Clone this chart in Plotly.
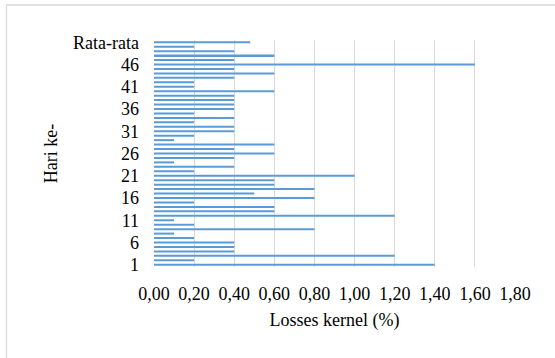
import plotly.graph_objects as go

# Daily kernel losses (%), days 1..50, followed by the average
days = [str(d) for d in range(1, 51)] + ["Rata-rata"]
losses = [
    1.40, 0.20, 1.20, 0.40, 0.40, 0.40, 0.20, 0.10, 0.80, 0.20,
    0.10, 1.20, 0.60, 0.60, 0.20, 0.80, 0.50, 0.80, 0.60, 0.60,
    1.00, 0.20, 0.40, 0.10, 0.40, 0.60, 0.40, 0.60, 0.10, 0.20,
    0.40, 0.40, 0.20, 0.40, 0.20, 0.40, 0.40, 0.40, 0.40, 0.60,
    0.20, 0.20, 0.40, 0.60, 0.40, 1.60, 0.40, 0.60, 0.40, 0.20,
    0.48,
]
y_ticks = ["1", "6", "11", "16", "21", "26", "31", "36", "41", "46", "Rata-rata"]
x_ticks = [0.0, 0.2, 0.4, 0.6, 0.8, 1.0, 1.2, 1.4, 1.6, 1.8]
x_tick_text = [f"{v:.2f}".replace(".", ",") for v in x_ticks]

W, H = 555, 358
L, R, T, B = 154, 40, 40, 91
pw, ph = W - L - R, H - T - B

font = dict(family="Liberation Serif, Times New Roman, serif", size=18, color="#000000")

fig = go.Figure(
    go.Bar(
        x=losses,
        y=days,
        orientation="h",
        width=0.45,
        marker=dict(color="#5B9BD5", line=dict(width=0)),
    )
)

# Outer chart-area border
def px_x(p):
    return (p - L) / pw

def px_y(p):
    return (H - B - p) / ph

fig.add_shape(
    type="rect", xref="paper", yref="paper",
    x0=px_x(6.5), x1=px_x(W + 5), y0=px_y(H + 5), y1=px_y(5),
    line=dict(color="#D9D9D9", width=1.3), fillcolor="rgba(0,0,0,0)", layer="below",
)

fig.update_layout(
    width=W, height=H,
    margin=dict(l=L, r=R, t=T, b=B, autoexpand=False),
    paper_bgcolor="white", plot_bgcolor="white",
    font=font,
    showlegend=False,
    bargap=0.55,
)
fig.update_xaxes(
    range=[0, 1.8],
    tickmode="array", tickvals=x_ticks, ticktext=x_tick_text,
    showgrid=True, gridcolor="#D9D9D9", gridwidth=1.3,
    zeroline=False, showline=False, ticks="",
    ticklabelstandoff=14,
    title=dict(text="Losses kernel (%)", font=font, standoff=10),
    automargin=False,
)
fig.update_yaxes(
    type="category", categoryorder="array", categoryarray=days,
    range=[-0.5, len(days) - 0.5],
    tickmode="array", tickvals=y_ticks, ticktext=y_ticks,
    showgrid=False, zeroline=False, showline=False, ticks="",
    ticklabelstandoff=14,
    title=dict(text="Hari ke-", font=font, standoff=10),
    automargin=False,
)

fig.write_html("out.html")
